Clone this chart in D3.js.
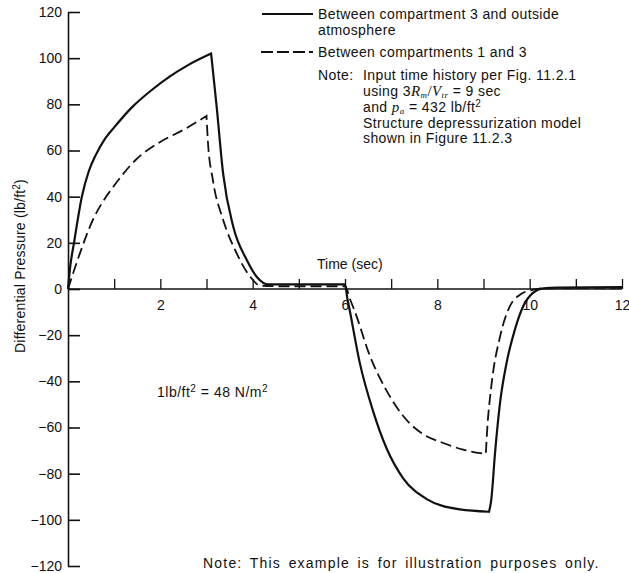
<!DOCTYPE html>
<html>
<head>
<meta charset="utf-8">
<script src="https://cdn.jsdelivr.net/npm/d3@7"></script>
<style>
  html, body { margin: 0; padding: 0; background: #fff; }
  svg text { font-family: "Liberation Sans", Arial, Helvetica, sans-serif; fill: #111; }
</style>
</head>
<body>
<svg id="chart" width="629" height="573"></svg>
<script>
// ---- data ----
const solidTime  = [0, 0.05, 0.13, 0.3, 0.45, 0.6, 0.8, 1.0, 1.4, 1.8, 2.2, 2.6, 3.1,
                    3.22, 3.36, 3.58, 3.87, 4.1, 4.34, 5.0, 6.0,
                    6.05, 6.1, 6.32, 6.61, 6.9, 7.26, 7.77, 8.49, 9.12,
                    9.17, 9.25, 9.36, 9.5, 9.68, 9.86, 10.07, 10.3, 10.6, 12];
const solidValue = [0, 10, 20, 40, 51, 58, 65, 70, 79, 86, 92, 97, 102,
                    79, 50, 27, 12.7, 5, 2, 2, 2,
                    -4, -9, -32, -53, -69, -82, -91, -95.5, -96.5,
                    -91, -71, -49, -32, -17.6, -7.5, -1.7, 0.3, 0.6, 0.8];
const dashTime   = [0, 0.25, 0.54, 0.76, 0.97, 1.47, 1.98, 2.55, 3.0,
                    3.03, 3.14, 3.36, 3.65, 3.94, 4.16, 4.5, 6.0,
                    6.12, 6.2, 6.54, 6.9, 7.26, 7.7, 8.1, 8.56, 9.05,
                    9.08, 9.17, 9.36, 9.57, 9.79, 10.08, 10.3, 12];
const dashValue  = [0, 15, 30, 38, 44, 56, 63.5, 69.5, 75,
                    64, 47, 30, 15.6, 5.5, 1.5, 1.2, 1.2,
                    -5, -9, -29, -44, -55, -63, -66.5, -69.6, -71.5,
                    -61, -42, -20.5, -7.5, -2.5, -0.3, 0.3, 0.5];
const yTicks = [-120, -100, -80, -60, -40, -20, 0, 20, 40, 60, 80, 100, 120];
const xTicks = [1, 2, 3, 4, 5, 6, 7, 8, 9, 10, 11, 12];
const xTickLabels = ["", "2", "", "4", "", "6", "", "8", "", "10", "", "12"];
const legendLabels = ["Between compartment 3 and outside", "atmosphere", "Between compartments 1 and 3"];
const noteLines = ["Input time history per Fig. 11.2.1", "Structure depressurization model", "shown in Figure 11.2.3"];

// ---- chart ----
const svg = d3.select("#chart");
const x = d3.scaleLinear().domain([0, 12]).range([68, 622]);
const y = d3.scaleLinear().domain([-120, 120]).range([566, 12]);
const FONT = "Liberation Sans, Arial, sans-serif";

// y axis (ticks pointing right, labels on the left)
const yAxis = d3.axisLeft(y).tickValues(yTicks).tickSizeInner(-12).tickSizeOuter(0).tickPadding(6)
  .tickFormat(d => d < 0 ? "\u2212" + Math.abs(d) : String(d));
const gy = svg.append("g").attr("transform", `translate(${x(0)},0)`).call(yAxis);
gy.selectAll("path,line").attr("stroke", "#111").attr("stroke-width", 1.6);
gy.selectAll("text").attr("font-size", 14).style("font-family", FONT).attr("fill", "#111");

// x axis along zero (ticks pointing up)
const xAxis = d3.axisBottom(x).tickValues(xTicks).tickSizeInner(-10).tickSizeOuter(0).tickPadding(11)
  .tickFormat((d, i) => xTickLabels[i]);
const gx = svg.append("g").attr("transform", `translate(0,${y(0)})`).call(xAxis);
gx.select(".domain").attr("d", `M${x(0)},0H${x(12)}`);
gx.selectAll("path,line").attr("stroke", "#111").attr("stroke-width", 1.3);
gx.selectAll("text").attr("font-size", 14).style("font-family", FONT).attr("fill", "#111");

// curves: split each series into monotone runs so corners stay sharp and
// smooth parts do not overshoot; runs are joined into one continuous path.
const line = d3.line().x(d => x(d[0])).y(d => y(d[1])).curve(d3.curveMonotoneX);
function runs(pts) {
  const out = []; let cur = [pts[0]]; let dir = 0;
  for (let i = 1; i < pts.length; i++) {
    const s = Math.sign(pts[i][1] - pts[i - 1][1]);
    if (s !== 0 && dir !== 0 && s !== dir) { out.push(cur); cur = [pts[i - 1]]; dir = s; }
    else if (s !== 0) dir = s;
    cur.push(pts[i]);
  }
  out.push(cur);
  return out;
}
function pathFor(pts) {
  return runs(pts).map((r, k) => { const d = line(r); return k === 0 ? d : "L" + d.slice(1); }).join("");
}
const solidData = solidTime.map((t, i) => [t, solidValue[i]]);
const dashData = dashTime.map((t, i) => [t, dashValue[i]]);
svg.append("path").attr("d", pathFor(solidData))
  .attr("fill", "none").attr("stroke", "#111").attr("stroke-width", 2.2).attr("stroke-linejoin", "miter");
svg.append("path").attr("d", pathFor(dashData))
  .attr("fill", "none").attr("stroke", "#111").attr("stroke-width", 1.8).attr("stroke-dasharray", "11,5");

// axis titles
svg.append("text").attr("x", 317).attr("y", 269).attr("font-size", 14).text("Time (sec)");
const yl = svg.append("text").attr("transform", "translate(25,266) rotate(-90)")
  .attr("text-anchor", "middle").attr("font-size", 14).attr("letter-spacing", 0.2);
yl.append("tspan").text("Differential Pressure (lb/ft");
yl.append("tspan").attr("dy", -5).attr("font-size", 10).text("2");
yl.append("tspan").attr("dy", 5).text(")");

// legend
svg.append("line").attr("x1", 262).attr("x2", 313).attr("y1", 14).attr("y2", 14)
  .attr("stroke", "#111").attr("stroke-width", 2);
svg.append("line").attr("x1", 261).attr("x2", 313).attr("y1", 52).attr("y2", 52)
  .attr("stroke", "#111").attr("stroke-width", 2).attr("stroke-dasharray", "12,4");
const ann = (xx, yy, s) => svg.append("text").attr("x", xx).attr("y", yy).attr("font-size", 14)
  .attr("letter-spacing", 0.4).text(s);
ann(318, 19, legendLabels[0]);
ann(318, 35, legendLabels[1]);
ann(318, 57, legendLabels[2]);

// note block
ann(318, 80, "Note:");
ann(363, 80, noteLines[0]);
const SERIF = "Liberation Serif, serif";
const l2 = svg.append("text").attr("x", 363).attr("y", 96).attr("font-size", 14).attr("letter-spacing", 0.4);
l2.append("tspan").text("using 3");
l2.append("tspan").attr("font-style", "italic").style("font-family", SERIF).attr("font-size", 15).text("R");
l2.append("tspan").attr("font-style", "italic").style("font-family", SERIF).attr("font-size", 9).attr("dy", 2).text("m");
l2.append("tspan").attr("dy", -2).style("font-family", SERIF).attr("font-size", 15).text("/");
l2.append("tspan").attr("font-style", "italic").style("font-family", SERIF).attr("font-size", 15).text("V");
l2.append("tspan").attr("font-style", "italic").style("font-family", SERIF).attr("font-size", 9).attr("dy", 2).text("tr");
l2.append("tspan").attr("dy", -2).text("  =  9 sec");
const l3 = svg.append("text").attr("x", 363).attr("y", 112).attr("font-size", 14).attr("letter-spacing", 0.4);
l3.append("tspan").text("and ");
l3.append("tspan").attr("font-style", "italic").style("font-family", SERIF).attr("font-size", 15).text("p");
l3.append("tspan").attr("font-style", "italic").style("font-family", SERIF).attr("font-size", 9).attr("dy", 2).text("a");
l3.append("tspan").attr("dy", -2).text("  =  432 lb/ft");
l3.append("tspan").attr("dy", -5).attr("font-size", 10).text("2");
ann(363, 128, noteLines[1]);
ann(363, 143, noteLines[2]);

// conversion note
const cv = svg.append("text").attr("x", 157).attr("y", 397).attr("font-size", 14).attr("letter-spacing", 0.5);
cv.append("tspan").text("1lb/ft");
cv.append("tspan").attr("dy", -5).attr("font-size", 10).text("2");
cv.append("tspan").attr("dy", 5).text("  =  48  N/m");
cv.append("tspan").attr("dy", -5).attr("font-size", 10).text("2");

// bottom note
svg.append("text").attr("x", 203).attr("y", 568).attr("font-size", 14)
  .attr("letter-spacing", 1.2).attr("word-spacing", 2.5)
  .text("Note:  This example is for illustration purposes only.");
</script>
</body>
</html>
